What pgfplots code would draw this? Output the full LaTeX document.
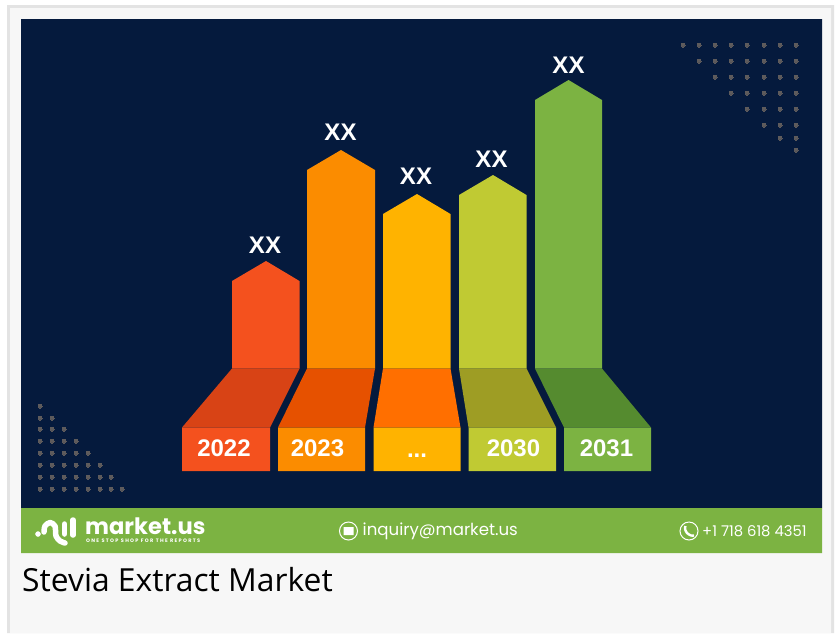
\documentclass[border=0pt]{standalone}
\usepackage{pgfplots}
\pgfplotsset{compat=1.18}
\usepackage{fontspec}
\setmainfont{Liberation Sans}
\newfontfamily\titlefont{Open Sans}
\newfontfamily\logofont{Poppins}[BoldFont={* Bold}]
\newfontfamily\tagfont{Poppins}[BoldFont={* Bold},LetterSpace=26]
\definecolor{navy}{HTML}{051A3D}
\definecolor{band}{HTML}{7CB342}
\definecolor{panel}{HTML}{F7F7F7}
\definecolor{frame}{HTML}{E3E3E3}
\definecolor{dots}{HTML}{5E5B5C}
\definecolor{aF}{HTML}{F4511E}\definecolor{aT}{HTML}{D84315}
\definecolor{bF}{HTML}{FB8C00}\definecolor{bT}{HTML}{E65100}
\definecolor{cF}{HTML}{FFB300}\definecolor{cT}{HTML}{FF6F00}
\definecolor{dF}{HTML}{C0CA33}\definecolor{dT}{HTML}{9E9D24}
\definecolor{eF}{HTML}{7CB342}\definecolor{eT}{HTML}{558B2F}
\newcommand{\fs}[1]{\fontsize{#1}{#1}\selectfont}
\begin{document}
\begin{tikzpicture}
\begin{axis}[
  at={(0,0)}, anchor=south west,
  width=836pt, height=633pt, scale only axis,
  xmin=0, xmax=836, ymin=0, ymax=633, y dir=reverse,
  axis lines=none, clip=true,
]
% page background, card and bands
\addplot[draw=none, fill=white] coordinates {(0,0)(836,0)(836,633)(0,633)(0,0)};
\addplot[draw=none, fill=frame] coordinates {(7,5)(834,5)(834,633)(7,633)(7,5)};
\addplot[draw=none, fill=panel] coordinates {(10,8)(831,8)(831,633)(10,633)(10,8)};
\addplot[draw=none, fill=navy] coordinates {(21,19)(822,19)(822,508)(21,508)(21,19)};
\addplot[draw=none, fill=band] coordinates {(21,508)(822,508)(822,553)(21,553)(21,508)};
% corner dots
\addplot[only marks, mark=*, mark size=2pt, mark options={draw=dots, fill=dots, line width=0pt}] coordinates {
  (683,45)(699,45)(715,45)(731,45)(747,45)(764,45)(780,45)(796,45)
  (699,61)(715,61)(731,61)(747,61)(764,61)(780,61)(796,61)
  (715,77)(731,77)(747,77)(764,77)(780,77)(796,77)
  (731,93)(747,93)(764,93)(780,93)(796,93)
  (747,109)(764,109)(780,109)(796,109)
  (764,125)(780,125)(796,125)
  (780,138)(796,138)
  (796,150)
  (40,406)
  (40,418)(52,418)
  (40,429)(52,429)(64,429)
  (40,441)(52,441)(64,441)(76,441)
  (40,453)(52,453)(64,453)(76,453)(88,453)
  (40,465)(52,465)(64,465)(76,465)(88,465)(100,465)
  (40,477)(52,477)(64,477)(76,477)(88,477)(100,477)(111,477)
  (40,489)(52,489)(64,489)(76,489)(88,489)(100,489)(111,489)(122,489)
};
% columns: front face with pointed top
\addplot[draw=none, fill=aF] coordinates {(232,368.5)(232,281)(266,261)(299.5,281)(299.5,368.5)(232,368.5)};
\addplot[draw=none, fill=bF] coordinates {(307,368.5)(307,170)(341,150)(375,170)(375,368.5)(307,368.5)};
\addplot[draw=none, fill=cF] coordinates {(383,368.5)(383,214)(417,194)(450.5,214)(450.5,368.5)(383,368.5)};
\addplot[draw=none, fill=dF] coordinates {(459,368.5)(459,195)(493,175)(526.5,195)(526.5,368.5)(459,368.5)};
\addplot[draw=none, fill=eF] coordinates {(535,368.5)(535,100)(568.5,80)(602,100)(602,368.5)(535,368.5)};
% floor
\addplot[draw=none, fill=aT] coordinates {(232,368.5)(299.5,368.5)(270,427.5)(182,427.5)(232,368.5)};
\addplot[draw=none, fill=bT] coordinates {(307,368.5)(375,368.5)(365,427.5)(278,427.5)(307,368.5)};
\addplot[draw=none, fill=cT] coordinates {(383,368.5)(450.5,368.5)(460.5,427.5)(373.5,427.5)(383,368.5)};
\addplot[draw=none, fill=dT] coordinates {(459,368.5)(526.5,368.5)(556,427.5)(468.5,427.5)(459,368.5)};
\addplot[draw=none, fill=eT] coordinates {(535,368.5)(602,368.5)(651,427.5)(564,427.5)(535,368.5)};
% year boxes
\addplot[draw=none, fill=aF] coordinates {(182,427.5)(270,427.5)(270,471)(182,471)(182,427.5)};
\addplot[draw=none, fill=bF] coordinates {(278,427.5)(365,427.5)(365,471)(278,471)(278,427.5)};
\addplot[draw=none, fill=cF] coordinates {(373.5,427.5)(460.5,427.5)(460.5,471)(373.5,471)(373.5,427.5)};
\addplot[draw=none, fill=dF] coordinates {(468.5,427.5)(556,427.5)(556,471)(468.5,471)(468.5,427.5)};
\addplot[draw=none, fill=eF] coordinates {(564,427.5)(651,427.5)(651,471)(564,471)(564,427.5)};
% logo
\addplot[draw=white, line width=5.5pt, line cap=round, line join=round, smooth] coordinates {(44,532)(45,526)(50,522.5)(55,526)(56,536)(60,541)(65,543)};
\addplot[draw=white, line width=5.5pt, line cap=round] coordinates {(64.5,524)(64.5,534)};
\addplot[draw=white, line width=5.5pt, line cap=round] coordinates {(73,520)(73,535)};
\addplot[only marks, mark=*, mark size=2.5pt, mark options={draw=white, fill=white}] coordinates {(38,534)};
% icons
\addplot[only marks, mark=o, mark size=9pt, mark options={draw=white, line width=1pt}] coordinates {(348.5,531)(689,531)};
\addplot[draw=none, fill=white] coordinates {(343.5,527)(353.5,527)(353.5,535)(343.5,535)(343.5,527)};
\addplot[draw=white, line width=2.4pt, smooth] coordinates {(685.5,526)(685,529)(687,533)(691,535.5)(694,535.5)};
% labels
\node[font=\bfseries\fs{24}, text=white] at (axis cs:265,245) {XX};
\node[font=\bfseries\fs{24}, text=white] at (axis cs:340.5,132) {XX};
\node[font=\bfseries\fs{24}, text=white] at (axis cs:416,176) {XX};
\node[font=\bfseries\fs{24}, text=white] at (axis cs:491.5,159) {XX};
\node[font=\bfseries\fs{24}, text=white] at (axis cs:568.5,65) {XX};
\node[font=\bfseries\fs{24}, text=white] at (axis cs:224,448.5) {2022};
\node[font=\bfseries\fs{24}, text=white] at (axis cs:317.5,448.5) {2023};
\node[font=\bfseries\fs{24}, text=white, anchor=base] at (axis cs:417,457) {...};
\node[font=\bfseries\fs{24}, text=white] at (axis cs:513.5,448.5) {2030};
\node[font=\bfseries\fs{24}, text=white] at (axis cs:606.5,448.5) {2031};
\node[font=\logofont\bfseries\fs{22.6}, text=white, anchor=west, inner sep=0pt] at (axis cs:85,526) {market.us};
\node[font=\tagfont\bfseries\fs{5}, text=white, anchor=west, inner sep=0pt] at (axis cs:86,541) {ONE STOP SHOP FOR THE REPORTS};
\node[font=\logofont\fs{16.6}, text=white, anchor=west, inner sep=0pt] at (axis cs:362.5,531.5) {inquiry@market.us};
\node[font=\logofont\fs{14.8}, text=white, anchor=west, inner sep=0pt] at (axis cs:702,531) {+1 718 618 4351};
\node[font=\titlefont\fs{31.8}, text=black, anchor=west, inner sep=0pt] at (axis cs:22,580) {Stevia Extract Market};
\end{axis}
\end{tikzpicture}
\end{document}
